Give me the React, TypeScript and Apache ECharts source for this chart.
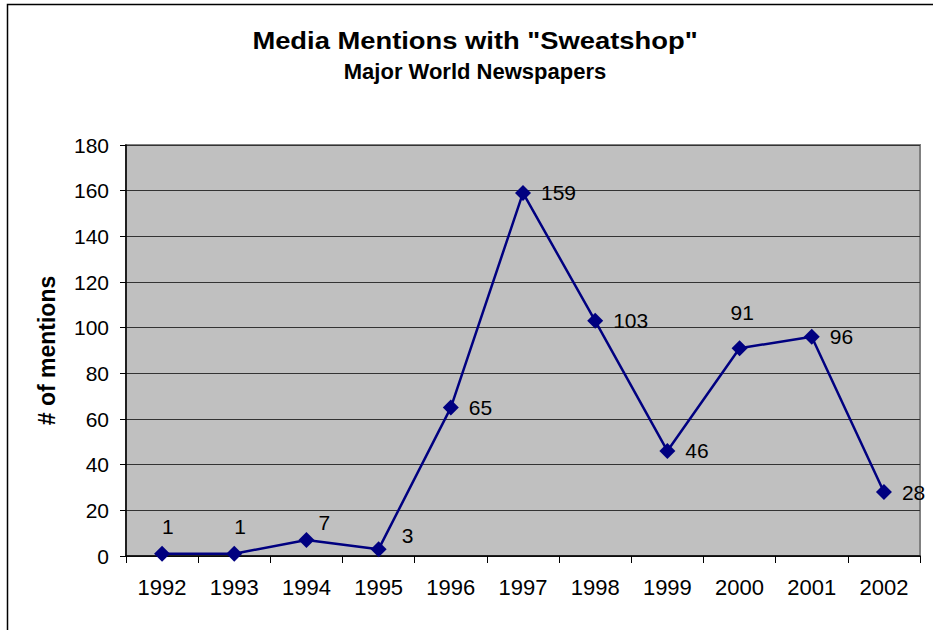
import React, { useEffect, useRef } from "react";
import * as echarts from "echarts";

const years = ["1992", "1993", "1994", "1995", "1996", "1997", "1998", "1999", "2000", "2001", "2002"];
const mentions = [1, 1, 7, 3, 65, 159, 103, 46, 91, 96, 28];
// label offsets [dx, dy] relative to a right-side label
const labelOffsets: [number, number][] = [
  [-18, -27], [-18, -27], [-6, -18], [5, -14], [0, 0], [0, 0], [0, 0], [0, 0], [-27, -36], [0, 0], [0, 0],
];
const titleText = 'Media Mentions with "Sweatshop"';
const subtitleText = "Major World Newspapers";

const FONT = "Arial, 'Liberation Sans', sans-serif";

export default function App() {
  const ref = useRef<HTMLDivElement>(null);
  useEffect(() => {
    if (!ref.current) return;
    const chart = echarts.init(ref.current, undefined, { renderer: "svg" });
    chart.setOption({
      animation: false,
      backgroundColor: "#ffffff",
      textStyle: { fontFamily: FONT },
      graphic: [
        {
          type: "rect",
          shape: { x: 7.5, y: 4.5, width: 960, height: 660 },
          style: { fill: "none", stroke: "#000", lineWidth: 1.5 },
          silent: true,
        },
        {
          type: "text",
          x: 475,
          y: 41,
          scaleX: 1.14,
          style: {
            text: titleText,
            fontFamily: FONT,
            fontSize: 24,
            fontWeight: "bold",
            fill: "#000",
            textAlign: "center",
            textVerticalAlign: "middle",
          },
        },
        {
          type: "text",
          x: 475,
          y: 71,
          style: {
            text: subtitleText,
            fontFamily: FONT,
            fontSize: 22,
            fontWeight: "bold",
            fill: "#000",
            textAlign: "center",
            textVerticalAlign: "middle",
          },
        },
      ],
      grid: {
        left: 126,
        top: 145,
        right: 13,
        bottom: 74,
        show: true,
        backgroundColor: "#C0C0C0",
        borderColor: "#808080",
        borderWidth: 2,
      },
      xAxis: {
        type: "category",
        data: years,
        boundaryGap: true,
        axisLine: { show: true, lineStyle: { color: "#000", width: 1.5 } },
        axisTick: { show: true, length: 7, lineStyle: { color: "#000", width: 1 } },
        axisLabel: { color: "#000", fontSize: 22, margin: 20, fontFamily: FONT },
        splitLine: { show: false },
      },
      yAxis: {
        type: "value",
        min: 0,
        max: 180,
        interval: 20,
        name: "# of mentions",
        nameLocation: "middle",
        nameRotate: 90,
        nameGap: 68,
        nameTextStyle: { fontFamily: FONT, fontSize: 23, fontWeight: "bold", color: "#000" },
        axisLine: { show: true, lineStyle: { color: "#000", width: 1.5 } },
        axisTick: { show: true, length: 6, lineStyle: { color: "#000", width: 1 } },
        axisLabel: { color: "#000", fontSize: 21, margin: 17, fontFamily: FONT },
        splitLine: { show: true, lineStyle: { color: "#333", width: 1 } },
      },
      series: [
        {
          type: "line",
          data: mentions.map((v, i) => ({
            value: v,
            label: { offset: labelOffsets[i] },
          })),
          symbol: "diamond",
          symbolSize: 16,
          lineStyle: { color: "#000080", width: 2.5 },
          itemStyle: { color: "#000080" },
          label: {
            show: true,
            position: "right",
            distance: 10,
            color: "#000",
            fontSize: 21,
            fontFamily: FONT,
          },
        },
      ],
    });
    return () => chart.dispose();
  }, []);
  return (
    <div
      ref={ref}
      style={{ position: "fixed", left: 0, top: 0, width: 933, height: 630 }}
    />
  );
}
